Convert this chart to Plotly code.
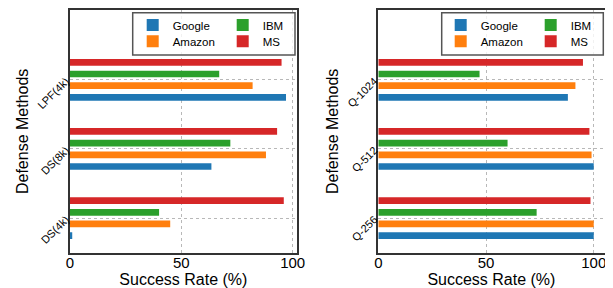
import plotly.graph_objects as go

# ---- data ----
providers = ["Google", "Amazon", "IBM", "MS"]
colors = ["#1f77b4", "#ff7f0e", "#2ca02c", "#d62728"]

left_methods = ["DS(4k)", "DS(8k)", "LPF(4k)"]
left_google = [1, 63.5, 97]
left_amazon = [45, 88, 82]
left_ibm = [40, 72, 67]
left_ms = [96, 93, 95]

right_methods = ["Q-256", "Q-512", "Q-1024"]
right_google = [100, 100, 88]
right_amazon = [100, 99, 91.5]
right_ibm = [73.5, 60, 47]
right_ms = [98.5, 98, 95]

x_ticks = [0, 50, 100]

# page has an 8px body margin; figure fills the rest of the 613x288 window
OFF = 8
W, H = 613 - OFF, 288 - OFF
FONT = "Liberation Sans, Arial, sans-serif"


def px(x):
    return (x - OFF) / W


def py(y):
    return 1 - (y - OFF) / H


fig = go.Figure()

left_vals = [left_google, left_amazon, left_ibm, left_ms]
right_vals = [right_google, right_amazon, right_ibm, right_ms]

# legend rows: row1 = Google, IBM ; row2 = Amazon, MS
left_leg = {"Google": "legend", "IBM": "legend", "Amazon": "legend2", "MS": "legend2"}
right_leg = {"Google": "legend3", "IBM": "legend3", "Amazon": "legend4", "MS": "legend4"}
rank = {"Google": 1, "IBM": 2, "Amazon": 1, "MS": 2}

for name, col, vals in zip(providers, colors, left_vals):
    fig.add_trace(go.Bar(y=left_methods, x=vals, orientation="h", name=name,
                         marker=dict(color=col, line=dict(width=0)),
                         xaxis="x", yaxis="y", legend=left_leg[name],
                         legendrank=rank[name]))
for name, col, vals in zip(providers, colors, right_vals):
    fig.add_trace(go.Bar(y=right_methods, x=vals, orientation="h", name=name,
                         marker=dict(color=col, line=dict(width=0)),
                         xaxis="x2", yaxis="y2", legend=right_leg[name],
                         legendrank=rank[name]))

ydom = [py(252.7), py(10)]
axis_common = dict(showline=True, linecolor="#333", linewidth=1.5, mirror=True,
                   showgrid=True, gridcolor="#b8b8b8", griddash="dot", gridwidth=0.8,
                   zeroline=False, ticks="", color="#000", automargin=True)

xcommon = dict(tickvals=x_ticks, tickfont=dict(size=15), ticklabelstandoff=-4,
               title=dict(text="Success Rate (%)", font=dict(size=16), standoff=2),
               **axis_common)
ycommon = dict(range=[-0.5, 3.01], categoryorder="array",
               tickangle=-45, tickfont=dict(size=11),
               title=dict(text="Defense Methods", font=dict(size=16), standoff=3),
               **axis_common)

fig.update_layout(
    width=W, height=H, margin=dict(l=0, r=0, t=0, b=0, autoexpand=False),
    paper_bgcolor="white", plot_bgcolor="white",
    font=dict(family=FONT, color="#000"),
    barmode="group", bargap=0.324, bargroupgap=0.426,
    xaxis=dict(domain=[px(70), px(296.7)], range=[0, 101.8], anchor="y", **xcommon),
    yaxis=dict(domain=ydom, anchor="x", categoryarray=left_methods, **ycommon),
    xaxis2=dict(domain=[px(378.3), px(604.5)], range=[0, 105], anchor="y2", **xcommon),
    yaxis2=dict(domain=ydom, anchor="x2", categoryarray=right_methods, **ycommon),
)

leg_common = dict(orientation="h", bgcolor="rgba(0,0,0,0)", borderwidth=0,
                  font=dict(size=11.5, family=FONT), entrywidth=45,
                  entrywidthmode="pixels", xanchor="left", yanchor="middle",
                  traceorder="normal")
fig.update_layout(
    legend=dict(x=px(132.7), y=py(25), **leg_common),
    legend2=dict(x=px(132.7), y=py(41.3), **leg_common),
    legend3=dict(x=px(440.7), y=py(25), **leg_common),
    legend4=dict(x=px(440.7), y=py(41.3), **leg_common),
)

for x0, x1 in [(132.7, 295), (441.7, 603.3)]:
    fig.add_shape(type="rect", xref="paper", yref="paper",
                  x0=px(x0), x1=px(x1), y0=py(55), y1=py(12.7),
                  line=dict(color="#555", width=1.5),
                  fillcolor="rgba(255,255,255,0.8)", layer="above")

fig.write_html("out.html")
